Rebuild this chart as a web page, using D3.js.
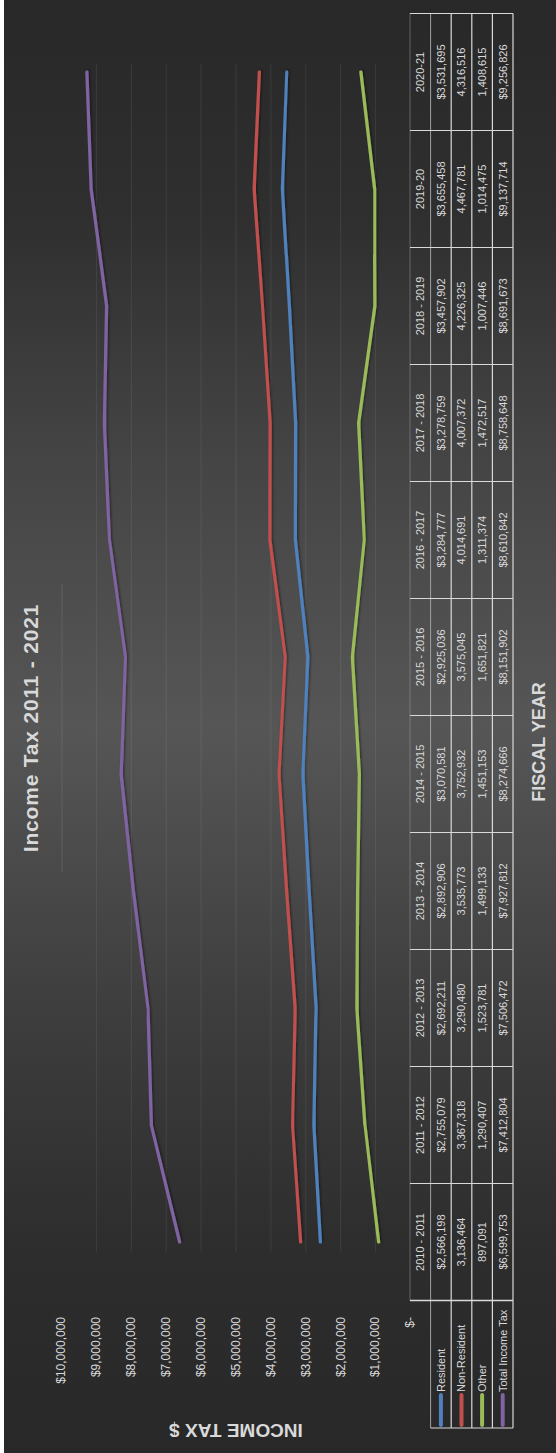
<!DOCTYPE html>
<html>
<head>
<meta charset="utf-8">
<script src="https://cdn.jsdelivr.net/npm/d3@7"></script>
<style>
  body { margin: 0; background: #ffffff; }
  svg { display: block; }
  text { font-family: "Liberation Sans", Arial, sans-serif; fill: #d9d9d9; }
</style>
</head>
<body>
<div id="chart"></div>
<script>
// data
var categories = ["2010 - 2011", "2011 - 2012", "2012 - 2013", "2013 - 2014", "2014 - 2015",
    "2015 - 2016", "2016 - 2017", "2017 - 2018", "2018 - 2019", "2019-20", "2020-21"];
var resident = [2566198, 2755079, 2692211, 2892906, 3070581, 2925036, 3284777, 3278759, 3457902, 3655458, 3531695];
var nonResident = [3136464, 3367318, 3290480, 3535773, 3752932, 3575045, 4014691, 4007372, 4226325, 4467781, 4316516];
var other = [897091, 1290407, 1523781, 1499133, 1451153, 1651821, 1311374, 1472517, 1007446, 1014475, 1408615];
var totalTax = [6599753, 7412804, 7506472, 7927812, 8274666, 8151902, 8610842, 8758648, 8691673, 9137714, 9256826];
var seriesNames = ["Resident", "Non-Resident", "Other", "Total Income Tax"];
var dollarRows = [true, false, false, true];
var yTickValues = [0, 1000000, 2000000, 3000000, 4000000, 5000000, 6000000, 7000000, 8000000, 9000000, 10000000];

var colors = ["#4f81bd", "#c0504d", "#9bbb59", "#8064a2"];
var allSeries = [resident, nonResident, other, totalTax];

// chart is drawn landscape (1453 x 556) and turned a quarter turn to the left
var W = 1453, H = 556;

var svg = d3.select("#chart").append("svg")
    .attr("width", H)
    .attr("height", W);

var defs = svg.append("defs");
var grad = defs.append("linearGradient").attr("id", "bg")
    .attr("x1", 0).attr("y1", 0).attr("x2", 1).attr("y2", 0);
[[0, "#282828"], [0.14, "#2d2d2d"], [0.3, "#3d3d3d"], [0.5, "#565656"],
 [0.68, "#454545"], [0.85, "#2f2f2f"], [1, "#282828"]].forEach(function (s) {
    grad.append("stop").attr("offset", s[0]).attr("stop-color", s[1]);
});
defs.append("filter").attr("id", "shadow")
    .attr("x", "-5%").attr("y", "-20%").attr("width", "110%").attr("height", "140%")
    .append("feDropShadow")
    .attr("dx", 1.2).attr("dy", 1.2).attr("stdDeviation", 1)
    .attr("flood-color", "#000").attr("flood-opacity", 0.45);

var g = svg.append("g").attr("transform", "translate(0," + W + ") rotate(-90)");

g.append("rect").attr("x", 0).attr("y", 4).attr("width", W).attr("height", H - 4)
    .attr("fill", "url(#bg)");

var xScale = d3.scaleBand().domain(categories).range([152.5, 1439.5]);
var bw = xScale.bandwidth();
function cx(c) { return xScale(c) + bw / 2; }

var yScale = d3.scaleLinear().domain([0, 10000000]).range([410, 61]);

// gridlines
var gx0 = cx(categories[0]) - 10, gx1 = cx(categories[categories.length - 1]) + 8;
var grid = g.append("g").attr("transform", "translate(" + gx0 + ",0)")
    .call(d3.axisLeft(yScale).tickValues(yTickValues.slice(1, -1)).tickSize(-(gx1 - gx0)).tickFormat(""));
grid.select(".domain").remove();
grid.selectAll("line").attr("stroke", "#ffffff").attr("stroke-opacity", 0.08);

// y axis labels
var yAxis = g.append("g").attr("transform", "translate(136,0)")
    .call(d3.axisLeft(yScale).tickValues(yTickValues).tickSize(0).tickPadding(0)
        .tickFormat(function (d) { return d === 0 ? "$-" : "$" + d3.format(",")(d); }));
yAxis.select(".domain").remove();
yAxis.selectAll("text").attr("font-size", 12).attr("font-family", null).attr("fill", "#d9d9d9");

// title
g.append("text").attr("x", 725).attr("y", 38).attr("text-anchor", "middle")
    .attr("font-size", 21).attr("font-weight", "bold").attr("letter-spacing", 0.8)
    .attr("fill", "#e0e0e0").text("Income Tax 2011 - 2021");
g.append("line").attr("x1", 581).attr("x2", 869).attr("y1", 62).attr("y2", 62)
    .attr("stroke", "#ffffff").attr("stroke-opacity", 0.1);

// axis titles
g.append("text").attr("transform", "translate(29,236) rotate(-90)").attr("text-anchor", "middle")
    .attr("font-size", 19).attr("font-weight", "bold").attr("fill", "#d0d0d0")
    .text("INCOME TAX $");
g.append("text").attr("x", 711).attr("y", 545).attr("text-anchor", "middle")
    .attr("font-size", 18).attr("font-weight", "bold").attr("fill", "#c8c8c8")
    .text("FISCAL YEAR");

// lines
var line = d3.line()
    .x(function (d, i) { return cx(categories[i]); })
    .y(function (d) { return yScale(d); });

g.selectAll(".series").data(allSeries).enter()
    .append("path")
    .attr("class", "series")
    .attr("d", line)
    .attr("fill", "none")
    .attr("stroke", function (d, i) { return colors[i]; })
    .attr("stroke-width", 3.2)
    .attr("stroke-linecap", "round")
    .attr("stroke-linejoin", "round")
    .attr("filter", "url(#shadow)");

// data table
var tTop = 410, rowH = 20.6, legX = 25;
var tRight = xScale.range()[1], tLeft = xScale.range()[0];
var table = g.append("g");

table.selectAll(".head").data(categories).enter().append("text")
    .attr("x", cx).attr("y", tTop + rowH / 2)
    .attr("dy", "0.35em").attr("text-anchor", "middle").attr("font-size", 11)
    .text(function (d) { return d; });

allSeries.forEach(function (vals, r) {
    var yy = tTop + rowH * (r + 1) + rowH / 2;
    table.selectAll(".row" + r).data(vals).enter().append("text")
        .attr("x", function (d, i) { return cx(categories[i]); })
        .attr("y", yy).attr("dy", "0.35em").attr("text-anchor", "middle").attr("font-size", 11)
        .text(function (d) { return (dollarRows[r] ? "$" : "") + d3.format(",")(d); });
    table.append("line").attr("x1", legX + 3).attr("x2", legX + 33).attr("y1", yy).attr("y2", yy)
        .attr("stroke", colors[r]).attr("stroke-width", 4).attr("stroke-linecap", "round");
    table.append("text").attr("x", legX + 36).attr("y", yy).attr("dy", "0.35em")
        .attr("font-size", 11).text(seriesNames[r]);
});

// table rules
var tBottom = tTop + rowH * 5;
table.append("line").attr("x1", tLeft).attr("x2", tRight).attr("y1", tTop).attr("y2", tTop)
    .attr("stroke", "#9a9a9a").attr("stroke-dasharray", "1,1");
table.append("line").attr("x1", legX).attr("x2", tRight).attr("y1", tTop + rowH).attr("y2", tTop + rowH)
    .attr("stroke", "#a0a0a0");
[2, 3, 4, 5].forEach(function (k) {
    table.append("line").attr("x1", legX).attr("x2", tRight)
        .attr("y1", tTop + rowH * k).attr("y2", tTop + rowH * k)
        .attr("stroke", "#d9d9d9").attr("stroke-width", 1.2);
});
table.append("line").attr("x1", legX).attr("x2", legX).attr("y1", tTop + rowH).attr("y2", tBottom)
    .attr("stroke", "#d9d9d9").attr("stroke-width", 1.2);
table.selectAll(".vsep").data(categories.concat(["end"])).enter().append("line")
    .attr("x1", function (d, i) { return tLeft + i * bw; })
    .attr("x2", function (d, i) { return tLeft + i * bw; })
    .attr("y1", function (d, i) { return i === 0 ? tTop : tTop; })
    .attr("y2", tBottom)
    .attr("stroke", "#d9d9d9")
    .attr("stroke-width", function (d, i) { return i === 0 ? 1.6 : 1.2; });
</script>
</body>
</html>
